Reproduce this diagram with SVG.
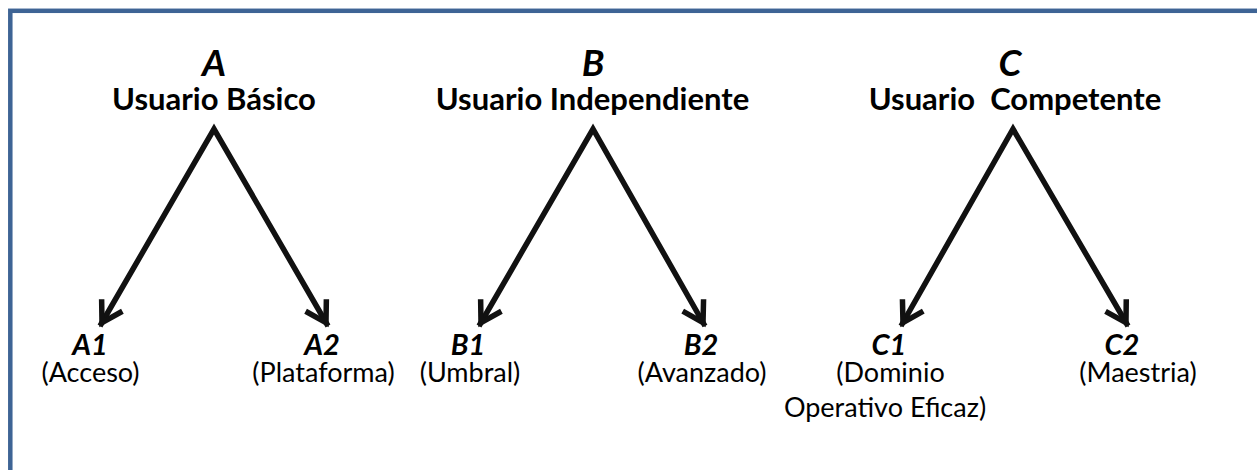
<svg xmlns="http://www.w3.org/2000/svg" width="1257" height="470" viewBox="0 0 1257 470">
  <style>
    text { font-family: Lato, "Liberation Sans", sans-serif; fill: #000; text-anchor: middle; }
    .letter { font-size: 37px; font-weight: bold; font-style: italic; }
    .title { font-size: 31px; font-weight: bold; }
    .sub { font-size: 29px; font-weight: bold; font-style: italic; }
    .desc { font-size: 27px; }
    .conn { fill: none; stroke: #111; stroke-width: 5.5; stroke-linejoin: miter; }
    .frame { fill: none; stroke: #3E6495; stroke-width: 4.5; }
  </style>
  <defs>
    <marker id="arrow" markerUnits="userSpaceOnUse" viewBox="-30 -20 40 40" refX="0" refY="0" markerWidth="40" markerHeight="40" orient="auto-start-reverse">
      <path d="M -24,-12 L -4,0 L -24,12" fill="none" stroke="#111" stroke-width="5.5" stroke-linejoin="miter"/>
    </marker>
  </defs>
  <rect class="frame" x="10.3" y="10.8" width="1300" height="520"/>

  <g id="connectors">
    <path class="conn" d="M 100,326 L 214,129 L 328,326" marker-start="url(#arrow)" marker-end="url(#arrow)"/>
    <path class="conn" d="M 479,326 L 593,129 L 705,326" marker-start="url(#arrow)" marker-end="url(#arrow)"/>
    <path class="conn" d="M 901,326 L 1013,129 L 1128,326" marker-start="url(#arrow)" marker-end="url(#arrow)"/>
  </g>

  <g id="node-A">
    <text class="letter" x="214" y="76">A</text>
    <text class="title" x="214" y="110">Usuario Básico</text>
  </g>
  <g id="node-B">
    <text class="letter" x="593" y="76">B</text>
    <text class="title" x="592.5" y="110">Usuario Independiente</text>
  </g>
  <g id="node-C">
    <text class="letter" x="1010" y="76">C</text>
    <text class="title" x="1015" y="110" xml:space="preserve">Usuario  Competente</text>
  </g>

  <g id="node-A1">
    <text class="sub" x="90" y="355">A1</text>
    <text class="desc" x="90.5" y="382">(Acceso)</text>
  </g>
  <g id="node-A2">
    <text class="sub" x="322" y="355">A2</text>
    <text class="desc" x="323.5" y="382">(Plataforma)</text>
  </g>
  <g id="node-B1">
    <text class="sub" x="468" y="355">B1</text>
    <text class="desc" x="470" y="382">(Umbral)</text>
  </g>
  <g id="node-B2">
    <text class="sub" x="701" y="355">B2</text>
    <text class="desc" x="702" y="382">(Avanzado)</text>
  </g>
  <g id="node-C1">
    <text class="sub" x="889" y="355">C1</text>
    <text class="desc" x="890.5" y="382">(Dominio</text>
    <text class="desc" x="885" y="417">Operativo Eficaz)</text>
  </g>
  <g id="node-C2">
    <text class="sub" x="1122" y="355">C2</text>
    <text class="desc" x="1138" y="382">(Maestria)</text>
  </g>
</svg>
